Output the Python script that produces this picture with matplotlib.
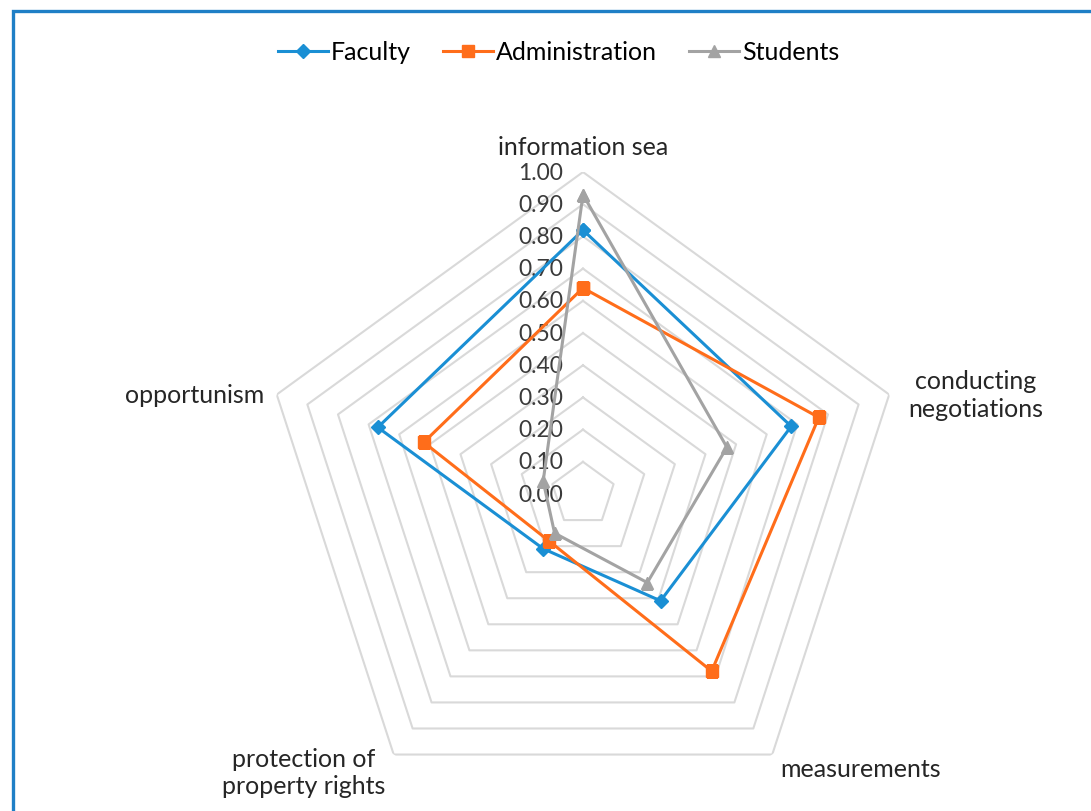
import numpy as np
import matplotlib.pyplot as plt
from matplotlib.patches import Rectangle

plt.rcParams['font.family'] = ['Lato', 'DejaVu Sans']

# axes of the radar, clockwise from the top
categories = ["information sea", "conducting\nnegotiations", "measurements",
              "protection of\nproperty rights", "opportunism"]
faculty = [0.82, 0.68, 0.41, 0.21, 0.67]
administration = [0.64, 0.77, 0.68, 0.18, 0.52]
students = [0.93, 0.47, 0.34, 0.15, 0.13]
levels = [0.0, 0.1, 0.2, 0.3, 0.4, 0.5, 0.6, 0.7, 0.8, 0.9, 1.0]
level_labels = ["%.2f" % v for v in levels]

n = len(categories)
angles = np.linspace(0, 2 * np.pi, n, endpoint=False)
closed = np.append(angles, angles[0])

fig = plt.figure(figsize=(10.91, 8.12), dpi=100)
ax = fig.add_axes([0.2392, -0.0062, 0.5903, 0.7931], projection='polar')
ax.set_theta_offset(np.pi / 2)
ax.set_theta_direction(-1)
ax.set_ylim(0, 1)
ax.grid(False)
ax.spines['polar'].set_visible(False)
ax.set_xticks([])
ax.set_yticks([])
ax.patch.set_alpha(0)

# pentagon gridlines
for lv in levels[1:]:
    ax.plot(closed, [lv] * (n + 1), color='#d9d9d9', lw=1.5, zorder=1)

# radial value labels
for lv, lab in zip(levels, level_labels):
    ax.annotate(lab, xy=(0, lv), xytext=(-20, 0), textcoords='offset pixels',
                ha='right', va='center', fontsize=16.5, color='#3a3a3a')

series = [
    ("Faculty", faculty, '#1a8fd4', 'D', 7),
    ("Administration", administration, '#ff6d1a', 's', 9),
    ("Students", students, '#a3a3a3', '^', 9),
]
for name, vals, col, mk, ms in series:
    ax.plot(closed, vals + vals[:1], color=col, lw=2.2, marker=mk,
            markersize=ms, label=name, zorder=3)

# category labels
label_pos = [
    ((0, 14), 'center', 'bottom'),
    ((19, 0), 'left', 'center'),
    ((8, -2), 'left', 'top'),
    ((-8, 8), 'right', 'top'),
    ((-12, 0), 'right', 'center'),
]
for ang, cat, (off, ha, va) in zip(angles, categories, label_pos):
    ax.annotate(cat, xy=(ang, 1.0), xytext=off, textcoords='offset pixels',
                ha=ha, va=va, multialignment='center', fontsize=18,
                color='#262626', linespacing=1.25, annotation_clip=False)

fig.legend(loc='center', bbox_to_anchor=(0.512, 0.935), ncol=3, frameon=False,
           fontsize=18, handlelength=2.0, columnspacing=1.3, handletextpad=0.1)

fig.patches.append(Rectangle((0.0115, -0.1), 1.1, 1.0852, transform=fig.transFigure,
                             fill=False, ec='#1f7fc6', lw=2.4))

fig.savefig("out.png", dpi=100)
